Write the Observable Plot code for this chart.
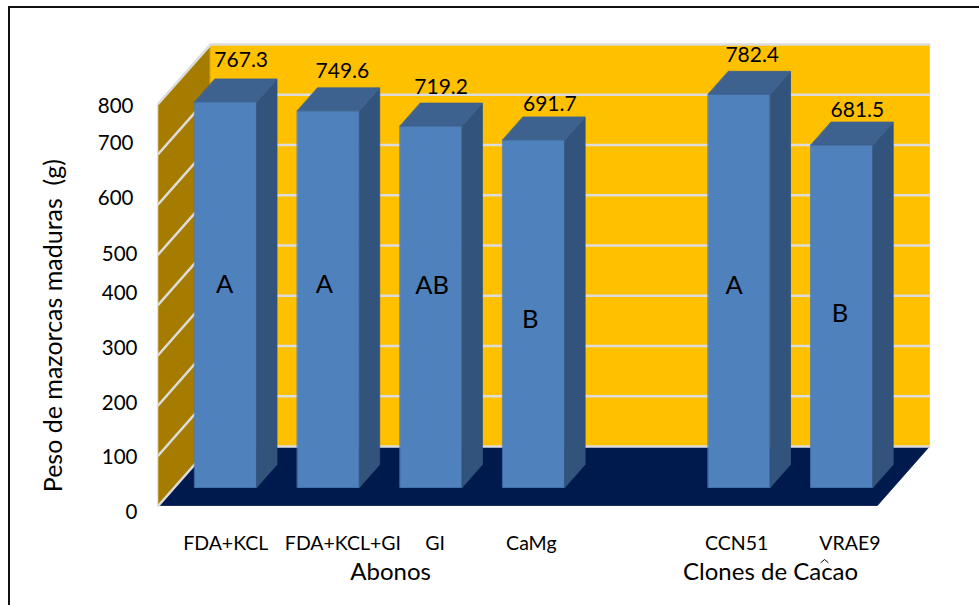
<!DOCTYPE html>
<html>
<head>
<meta charset="utf-8">
<script src="https://cdn.jsdelivr.net/npm/d3@7"></script>
<script src="https://cdn.jsdelivr.net/npm/@observablehq/plot@0.6"></script>
<style>
  html, body { margin: 0; padding: 0; background: #fff; overflow: hidden; }
  #frame { position: absolute; left: 8px; top: 6px; right: 0; bottom: 0;
           border-left: 2.5px solid #111; border-top: 2.5px solid #111; pointer-events: none; }
  svg { display: block; }
</style>
</head>
<body>
<div id="chart"></div>
<div id="frame"></div>
<script>
// Peso de mazorcas por abono y por clon
const categories = ["FDA+KCL", "FDA+KCL+GI", "GI", "CaMg", "CCN51", "VRAE9"];
const values = [767.3, 749.6, 719.2, 691.7, 782.4, 681.5];
const letters = ["A", "A", "AB", "B", "A", "B"];
const slots = [0, 1, 2, 3, 5, 6];
const yTicks = [0, 100, 200, 300, 400, 500, 600, 700, 800];
const groupTitles = ["Abonos", "Clones de Cacao"];

// Oblique projection: depth d (0 = front edge, 1 = back wall) shifts a point up and right.
const DEPTH_X = 0.5063, DEPTH_Y = 117.4, SLOTS = 7, TOP = 800;
const BAR_WIDTH = 0.604, BAR_D0 = 0.305, BAR_D1 = 0.695;
const px = d => d.c + d.d * DEPTH_X;
const py = d => d.v + d.d * DEPTH_Y;

const face = (id, pts) => pts.map(([c, v, d]) => ({id, c, v, d}));
const polygon = (faces, fill, extra = {}) =>
  Plot.line(faces.flat(), {x: px, y: py, z: "id", fill, stroke: fill, strokeWidth: 0.8,
                           curve: "linear-closed", ...extra});

const bars = values.map((v, i) => {
  const c0 = slots[i] + 0.5 - BAR_WIDTH / 2, c1 = c0 + BAR_WIDTH;
  return {i, v, c0, c1};
});
const frontFaces = bars.map(b => face(`f${b.i}`, [[b.c0,0,BAR_D0],[b.c1,0,BAR_D0],[b.c1,b.v,BAR_D0],[b.c0,b.v,BAR_D0]]));
const sideFaces = bars.map(b => face(`s${b.i}`, [[b.c1,0,BAR_D0],[b.c1,0,BAR_D1],[b.c1,b.v,BAR_D1],[b.c1,b.v,BAR_D0]]));
const topFaces = bars.map(b => face(`t${b.i}`, [[b.c0,b.v,BAR_D0],[b.c1,b.v,BAR_D0],[b.c1,b.v,BAR_D1],[b.c0,b.v,BAR_D1]]));

const FONT = "Lato, 'Open Sans', sans-serif";
const GRID = "#dcdcdc";

// Pixel nudges for the free-floating annotation labels
const tickNudge = [6.5, 2.5, -1.5, -6.5, -11.5, 0.5, -6, -10.5, 2.5];
const tickShift = [-21, -21, -21, -21, -21, -21, -25, -25, -25];
const valueNudge = [[15.5,-19],[14,-17],[10,-15.5],[16,-13],[13,-16],[15.5,-12]];
const letterY = [440, 440, 438, 370, 438, 382];
const letterX = [-1, -4, 1, -3.5, -5, -2];
const catNudge = [0, 14.5, 4, -2.5, -2.5, 8];

const marks = [
  // walls and floor
  polygon([face("left", [[0,0,0],[0,0,1],[0,TOP,1],[0,TOP,0]])], "#a67c00"),
  polygon([face("back", [[0,0,1],[SLOTS,0,1],[SLOTS,TOP,1],[0,TOP,1]])], "#ffc000"),
  polygon([face("floor", [[0,0,0],[SLOTS,0,0],[SLOTS,0,1],[0,0,1]])], "#001a4d"),
  // gridlines wrap from the side wall onto the back wall
  Plot.line(yTicks.flatMap(v => face(`g${v}`, [[0,v,0],[0,v,1],[SLOTS,v,1]])),
            {x: px, y: py, z: "id", stroke: GRID, strokeWidth: 2.6}),
  polygon(frontFaces, "#4f81bd", {stroke: "#4a7ab3"}),
  polygon(sideFaces, "#32537b"),
  polygon(topFaces, "#3d628f"),
  // statistical letters on the bars
  Plot.text(bars, {x: b => b.c0 + BAR_WIDTH / 2 + BAR_D0 * DEPTH_X + letterX[b.i] / 102.7, y: b => letterY[b.i],
                   text: b => letters[b.i], fontSize: 25.5, fontFamily: FONT, fill: "#000"}),
  // value above each bar
  ...bars.map(b => Plot.text([b], {x: d => d.c0 + BAR_WIDTH / 2 + BAR_D0 * DEPTH_X, y: d => d.v + BAR_D1 * DEPTH_Y,
                   text: d => d.v.toFixed(1), dx: valueNudge[b.i][0], dy: valueNudge[b.i][1],
                   fontSize: 21, fontFamily: FONT, fill: "#000"})),
  // value axis labels
  ...yTicks.map((v, i) => Plot.text([v], {x: 0, y: d => d, text: d => String(d), textAnchor: "end", dx: tickShift[i],
                   dy: tickNudge[i], fontSize: 20.5, fontFamily: FONT, fill: "#000"})),
  // category labels
  ...categories.map((name, i) => Plot.text([name], {x: slots[i] + 0.5 + BAR_D0 * DEPTH_X, y: -76, text: d => d,
                   dx: catNudge[i], fontSize: 19.5, fontFamily: FONT, fill: "#000"})),
  // group titles
  Plot.text([groupTitles[0]], {x: 2.26, y: -132, text: d => d, fontSize: 24, fontFamily: FONT, fill: "#000"}),
  Plot.text([groupTitles[1]], {x: 5.96, y: -132, text: d => d, fontSize: 24, fontFamily: FONT, fill: "#000"}),
  // small caret above the second title
  Plot.line([[6.451, -113.4], [6.485, -107.5], [6.519, -113.4]], {x: d => d[0], y: d => d[1], stroke: "#000", strokeWidth: 1}),
  // value axis title
  Plot.text(["Peso de mazorcas maduras  (g)"], {x: -1.015, y: 358, text: d => d, rotate: -90,
                   fontSize: 25, fontFamily: FONT, fill: "#000"})
];

const chart = Plot.plot({
  width: 979, height: 605, margin: 0,
  style: {background: "#fff", overflow: "visible"},
  x: {domain: [-1.5385, 7.994], range: [0, 979], axis: null},
  y: {domain: [-199, 1005], range: [605, 0], axis: null},
  marks
});
document.getElementById("chart").append(chart);
</script>
</body>
</html>
